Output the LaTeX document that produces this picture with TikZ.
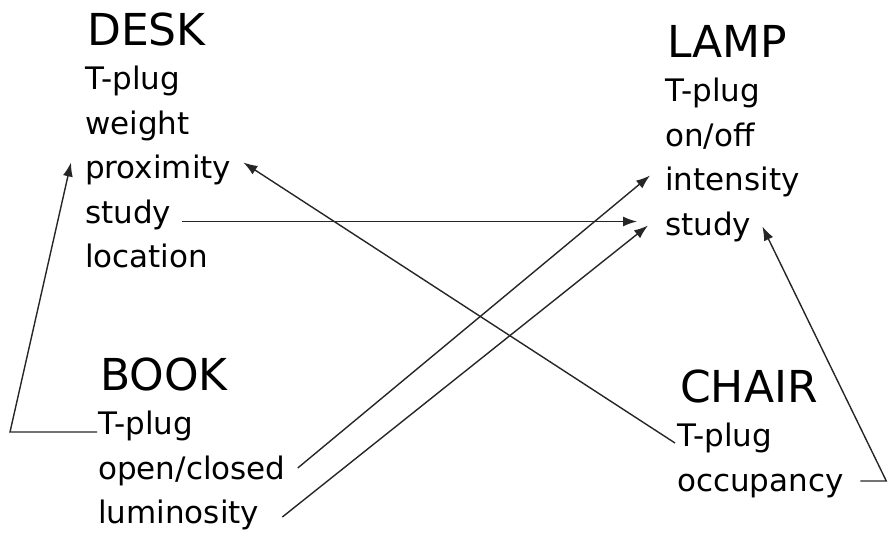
\documentclass[tikz,border=0pt]{standalone}
\usepackage{fontspec}
\setmainfont{DejaVu Sans}
\usetikzlibrary{arrows.meta,positioning,calc}

\tikzset{
	heading/.style={font=\fontsize{44}{44}\selectfont, anchor=base west, inner sep=0pt},
	item/.style={font=\fontsize{31}{31}\selectfont, anchor=base west, inner sep=0pt},
	link/.style={line width=1.4pt, black!85},
	linkarrow/.style={link, -{Latex[length=14pt,width=10pt]}}
}

\begin{document}
\begin{tikzpicture}[x=1pt,y=-1pt]
		
		\useasboundingbox (0,0) rectangle (888,536);
		
		% desk
		\node[heading] (desk) at (87,45) {DESK};
		\foreach \t [count=\i] in {T-plug,weight,proximity,study,location}
		\node[item] (desk\i) at (85,45+44.5*\i) {\t};
		
		% lamp
		\node[heading] (lamp) at (667,57) {LAMP};
		\foreach \t [count=\i] in {T-plug,on/off,intensity,study}
		\node[item] (lamp\i) at (665,57+44.5*\i) {\t};
		
		% book
		\node[heading] (book) at (100,390) {BOOK};
		\foreach \t [count=\i] in {T-plug,open/closed,luminosity}
		\node[item] (book\i) at (98,390+44.5*\i) {\t};
		
		% chair
		\node[heading] (chair) at (680,402) {CHAIR};
		\foreach \t [count=\i] in {T-plug,occupancy}
		\node[item] (chair\i) at (677,402+44.5*\i) {\t};
		
		% ends of the straight link
		\coordinate (deskout) at ([xshift=11pt,yshift=1.5pt]desk4.base east);
		\coordinate (lampin) at ([xshift=-28pt]lamp4.base west);
		
		% links
		\draw[linkarrow] ([xshift=-1pt,yshift=2.5pt]book1.base west)
		-- ++(-87,0)
		-- ([xshift=-14pt,yshift=16pt]desk3.base west);
		
		\draw[linkarrow] ([xshift=-2pt,yshift=3.5pt]chair1.base west)
		-- ([xshift=12pt,yshift=16pt]desk3.base east);
		
		\draw[linkarrow] (deskout) -- (deskout -| lampin);
		
		\draw[linkarrow] ([xshift=12pt,yshift=11pt]book2.base east)
		-- ([xshift=-15pt,yshift=15pt]lamp3.base west);
		
		\draw[linkarrow] ([xshift=23pt,yshift=6.5pt]book3.base east)
		-- ([xshift=-17pt,yshift=9.5pt]lamp4.base west);
		
		\draw[linkarrow] ([xshift=16.5pt,yshift=10pt]chair2.base east)
		-- ++(26,0)
		-- ([xshift=11pt,yshift=8.5pt]lamp4.base east);
		
	\end{tikzpicture}
\end{document}
